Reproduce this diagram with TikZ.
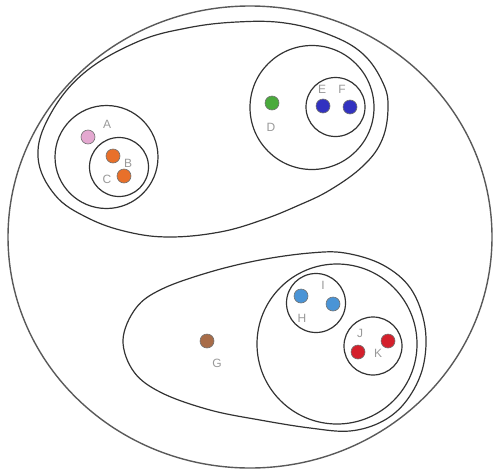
\documentclass[tikz,border=0pt]{standalone}
\usepackage{fontspec}
\setmainfont{Liberation Sans}
\definecolor{cA}{HTML}{E4A8D0}
\definecolor{cB}{HTML}{E8702A}
\definecolor{cD}{HTML}{4AAA3C}
\definecolor{cE}{HTML}{3232C0}
\definecolor{cG}{HTML}{A86C48}
\definecolor{cH}{HTML}{4A94D6}
\definecolor{cJ}{HTML}{D4202C}
\begin{document}
\begin{tikzpicture}[x=1pt,y=-1pt,
  ring/.style={draw=black!80,line width=1.2pt},
  dot/.style={circle,draw=black!55,line width=0.6pt,inner sep=0pt,minimum size=14pt},
  lbl/.style={text=black!40,font=\fontsize{12}{14}\selectfont,inner sep=0pt}]
\useasboundingbox (0,0) rectangle (494,471);
% outer
\draw[ring,draw=black!65,line width=1.4pt] (250,237) ellipse [x radius=242,y radius=231];
% top blob
\draw[ring] plot[smooth cycle,tension=0.65] coordinates {(38,157)(50,115)(84,73)(137,42)(187,28)(237,22)(285,23)(330,35)(363,54)(383,83)(388,108)(382,140)(363,166)(330,190)(297,206)(262,220)(220,232)(170,237)(128,232)(88,218)(55,195)};
% bottom blob
\draw[ring] plot[smooth cycle,tension=0.6] coordinates {(123,340)(136,308)(162,289)(210,272)(260,260)(310,253)(345,253)(383,265)(411,289)(425,327)(423,367)(407,400)(383,421)(350,431)(310,428)(260,420)(210,410)(162,393)(134,372)};
% circles
\draw[ring] (106.5,157) circle [radius=51.5];
\draw[ring] (119,167) circle [radius=29.5];
\draw[ring] (312,107.5) circle [radius=62];
\draw[ring] (335.5,107) circle [radius=29.5];
\draw[ring] (337,344) circle [radius=80];
\draw[ring] (316,303) circle [radius=29.5];
\draw[ring] (373,346) circle [radius=29];
% dots
\node[dot,fill=cA] (A) at (88,137) {};
\node[dot,fill=cB] (B) at (113,156) {};
\node[dot,fill=cB] (C) at (124,176) {};
\node[dot,fill=cD] (D) at (272,103) {};
\node[dot,fill=cE] (E) at (323,106) {};
\node[dot,fill=cE] (F) at (350,107) {};
\node[dot,fill=cG] (G) at (207,341) {};
\node[dot,fill=cH] (H) at (301,296) {};
\node[dot,fill=cH] (I) at (333,304) {};
\node[dot,fill=cJ] (J) at (358,352) {};
\node[dot,fill=cJ] (K) at (388,341) {};
% labels
\node[lbl] (lA) at (107,124) {A};
\node[lbl] (lB) at (128,163) {B};
\node[lbl] (lC) at (107,179) {C};
\node[lbl] (lD) at (271,127) {D};
\node[lbl] (lE) at (322,89) {E};
\node[lbl] (lF) at (342,89) {F};
\node[lbl] (lG) at (217,363) {G};
\node[lbl] (lH) at (302,318) {H};
\node[lbl] (lI) at (323,285) {I};
\node[lbl] (lJ) at (360,333) {J};
\node[lbl] (lK) at (378,353) {K};
\end{tikzpicture}
\end{document}
